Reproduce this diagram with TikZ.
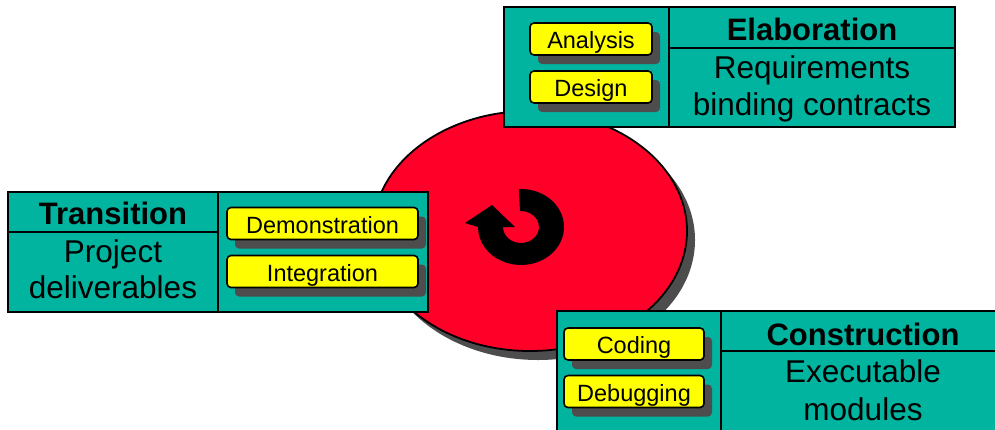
\documentclass[tikz,border=0pt]{standalone}
\usepackage{fontspec}
\setmainfont{Liberation Sans}
\usetikzlibrary{shadows,shapes.geometric,calc}
\definecolor{phaseteal}{RGB}{0,180,160}
\definecolor{discred}{RGB}{255,0,40}
\definecolor{shadegray}{RGB}{77,77,77}
\definecolor{taskyellow}{RGB}{255,255,0}
\tikzset{
  phasebox/.style={draw=black, line width=1.8pt, fill=phaseteal},
  divider/.style={draw=black, line width=1.8pt},
  task/.style={draw=black, line width=1.6pt, fill=taskyellow, rounded corners=4pt,
    inner sep=0pt, minimum height=32pt, text height=19.5pt, text depth=0pt,
    font=\fontsize{23.5}{28}\selectfont,
    drop shadow={shadow xshift=8pt, shadow yshift=-9pt, opacity=1, fill=shadegray}},
  title/.style={anchor=base, inner sep=0pt, font=\fontsize{31}{37}\selectfont\bfseries},
  body/.style={anchor=base, inner sep=0pt, font=\fontsize{31.5}{37}\selectfont},
}
\begin{document}
\begin{tikzpicture}[x=1pt,y=1pt]
\useasboundingbox (0,0) rectangle (995,-429);
\clip (0,0) rectangle (995,-429);

% central disc with its shadow
\node[ellipse, draw=black, line width=1.8pt, fill=discred,
  minimum width=314pt, minimum height=240pt, inner sep=0pt,
  drop shadow={shadow xshift=8pt, shadow yshift=-9pt, opacity=1, fill=shadegray}]
  (disc) at (530,-231) {};

% circular arrow
\coordinate (cyc) at (521,-227);
\fill[black] ($(cyc)+(93:43 and 38)$) arc[start angle=93, end angle=-180, x radius=43, y radius=38]
  -- (465,-223) -- (492,-205) -- (515,-227)
  -- ($(cyc)+(180:18 and 16)$) arc[start angle=-180, end angle=93, x radius=18, y radius=16]
  -- cycle;

% Elaboration
\draw[phasebox] (504,-7) rectangle (955,-127);
\draw[divider] (669,-7) -- (669,-127);
\draw[divider] (669,-48) -- (955,-48);
\node[task, minimum width=122pt] (analysis) at (591,-39) {Analysis};
\node[task, minimum width=122pt] (design) at (591,-87) {Design};
\node[title] (elab) at (812,-40) {Elaboration};
\node[body] (elab1) at (812,-78) {Requirements};
\node[body] (elab2) at (812,-115) {binding contracts};

% Transition
\draw[phasebox] (8,-192) rectangle (428,-312);
\draw[divider] (218,-192) -- (218,-312);
\draw[divider] (8,-232) -- (218,-232);
\node[task, minimum width=191pt] (demo) at (322.5,-223.5) {Demonstration};
\node[task, minimum width=191pt] (integ) at (322.5,-271.5) {Integration};
\node[title] (trans) at (113,-224) {Transition};
\node[body] (trans1) at (113,-262) {Project};
\node[body] (trans2) at (113,-298) {deliverables};

% Construction
\draw[phasebox] (557,-311) rectangle (1005,-440);
\draw[divider] (721,-311) -- (721,-440);
\draw[divider] (721,-351) -- (1005,-351);
\node[task, minimum width=140pt] (coding) at (634,-344) {Coding};
\node[task, minimum width=140pt] (debug) at (634,-391.5) {Debugging};
\node[title] (cons) at (863,-345) {Construction};
\node[body] (cons1) at (863,-382) {Executable};
\node[body] (cons2) at (863,-420) {modules};
\end{tikzpicture}
\end{document}
